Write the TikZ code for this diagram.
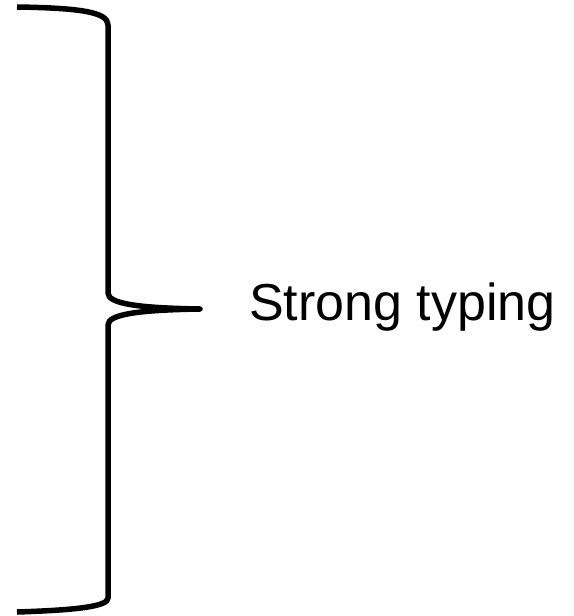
\documentclass[tikz,border=0pt]{standalone}
\usepackage{fontspec}
\setmainfont{Liberation Sans}
\begin{document}
\begin{tikzpicture}[x=1bp,y=-1bp,
  bracestroke/.style={line width=5.5bp,line join=round,line cap=butt},
  label/.style={font=\fontsize{52bp}{60bp}\selectfont,inner sep=0pt,anchor=base west}]
\useasboundingbox (0,0) rectangle (574,616);
% right-facing curly brace
\coordinate (tip) at (200,309);
\draw[bracestroke] (17,7) .. controls (80,8) and (108,12) .. (108,25)
  -- (108,293) .. controls (108,304) and (140,308) .. (tip)
  .. controls (140,310) and (108,314) .. (108,325)
  -- (108,598) .. controls (108,606) and (80,610) .. (17,612);
\node[label] (txt) at (249,320) {Strong typing};
\end{tikzpicture}
\end{document}
